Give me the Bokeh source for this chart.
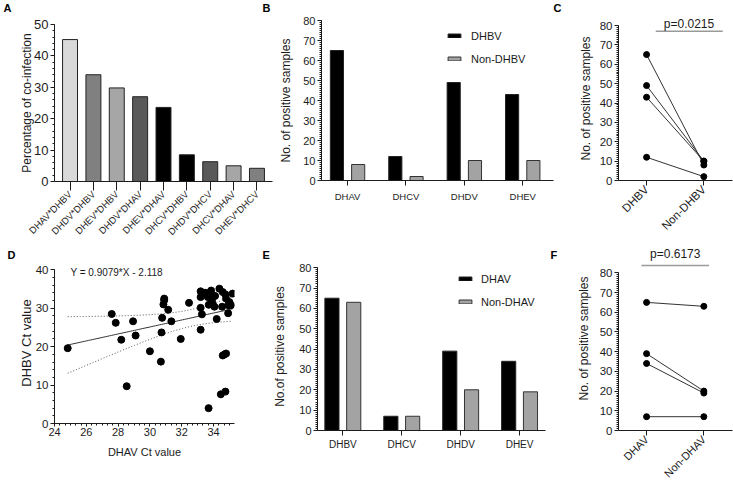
import math
import numpy as np
from bokeh.plotting import figure
from bokeh.models import (Range1d, FixedTicker, SingleIntervalTicker, Label,
                          Legend, LegendItem)
from bokeh.layouts import row, column
from bokeh.embed import file_html
from bokeh.resources import INLINE

FONT = "Liberation Sans"
INK = "#1c1c1c"
GREY_BAR = "#a3a3a3"

# ---- A: co-infection percentages ----
coinf_pairs = ["DHAV*DHBV", "DHDV*DHBV", "DHEV*DHBV", "DHDV*DHAV", "DHEV*DHAV",
               "DHCV*DHBV", "DHDV*DHCV", "DHCV*DHAV", "DHEV*DHCV"]
coinf_pct = [45.2, 34.0, 29.8, 27.0, 23.6, 8.5, 6.3, 5.0, 4.2]
coinf_fill = ["#d9d9d9", "#808080", "#a6a6a6", "#595959", "#000000",
              "#000000", "#595959", "#a6a6a6", "#808080"]

# ---- B / C: positives with and without DHBV ----
viruses_b = ["DHAV", "DHCV", "DHDV", "DHEV"]
with_dhbv = [65, 12, 49, 43]
without_dhbv = [8, 2, 10, 10]
groups_c = ["DHBV", "Non-DHBV"]
p_text_c = "p=0.0215"

# ---- E / F: positives with and without DHAV ----
viruses_e = ["DHBV", "DHCV", "DHDV", "DHEV"]
with_dhav = [65, 7, 39, 34]
without_dhav = [63, 7, 20, 19]
groups_f = ["DHAV", "Non-DHAV"]
p_text_f = "p=0.6173"

# ---- D: Ct value correlation ----
dhav_ct = [24.83, 27.6, 27.85, 28.2, 28.54, 28.94, 29.1, 30.0, 30.69, 30.73,
           30.77, 30.85, 30.9, 30.9, 31.15, 31.35, 31.94, 32.46, 33.19, 33.19,
           33.19, 33.27, 33.19, 33.44, 33.64, 33.85, 33.85, 33.9, 33.94, 34.06,
           33.7, 33.69, 34.2, 34.37, 34.46, 34.54, 34.58, 34.58, 34.7, 34.79,
           34.75, 34.75, 34.79, 34.92, 34.92, 35.0, 35.1, 35.2, 33.5, 34.1]
dhbv_ct = [19.6, 28.5, 26.2, 21.8, 9.7, 26.6, 22.9, 18.8, 16.1, 23.7,
           27.5, 31.0, 32.1, 32.5, 29.6, 26.6, 22.0, 31.4, 34.4, 32.9,
           30.1, 28.4, 24.4, 33.9, 32.9, 34.6, 33.4, 32.0, 31.1, 30.4,
           30.9, 4.0, 27.2, 35.1, 7.6, 30.4, 34.2, 17.7, 18.0, 18.2,
           8.3, 33.6, 32.5, 28.7, 30.8, 31.6, 30.8, 33.8, 34.0, 33.2]
fit_slope = 0.9079
fit_intercept = -2.118
fit_text = "Y = 0.9079*X - 2.118"

# panel letters: (text, left x, vertical centre y) on the page
panel_letters_top = [("A", 3, 7.4), ("B", 262, 7.2), ("C", 553, 7.2)]
panel_letters_bottom = [("D", 7, 254.6), ("E", 262, 254.6), ("F", 550, 254.3)]


def make_fig(w, h, left, right, top, bottom, xr, yr):
    p = figure(width=w, height=h, x_range=xr, y_range=yr, tools="",
               title=None, output_backend="svg", toolbar_location=None,
               min_border_left=left, min_border_right=right,
               min_border_top=top, min_border_bottom=bottom)
    p.outline_line_color = None
    p.xgrid.visible = False
    p.ygrid.visible = False
    p.background_fill_color = "white"
    p.border_fill_color = "white"
    return p


def header(w, h, y0, letters):
    # strip above a row of panels carrying the bold panel letters
    p = figure(width=w, height=h, x_range=Range1d(0, w), y_range=Range1d(0, h),
               tools="", title=None, toolbar_location=None,
               output_backend="svg", min_border=0, min_border_left=0,
               min_border_right=0, min_border_top=0, min_border_bottom=0,
               x_axis_location=None, y_axis_location=None)
    p.outline_line_color = None
    p.xgrid.visible = False
    p.ygrid.visible = False
    p.background_fill_color = "white"
    p.border_fill_color = "white"
    for txt, x, mid in letters:
        p.add_layout(Label(x=x, y=(y0 + h) - mid, text=txt, text_font=FONT,
                           text_font_size="11px", text_font_style="bold",
                           text_color="black", text_align="left",
                           text_baseline="middle"))
    return p


def style_axis(ax, tick_px, label_px, tick_out=4, standoff=2, label_standoff=3):
    ax.axis_line_color = INK
    ax.axis_line_width = 1
    ax.major_tick_line_color = INK
    ax.minor_tick_line_color = INK
    ax.major_tick_out = tick_out
    ax.major_tick_in = 0
    ax.minor_tick_out = 2
    ax.minor_tick_in = 0
    ax.major_label_text_font = FONT
    ax.major_label_text_font_size = f"{tick_px}px"
    ax.major_label_text_color = INK
    ax.axis_label_text_font = FONT
    ax.axis_label_text_font_size = f"{label_px}px"
    ax.axis_label_text_font_style = "normal"
    ax.axis_label_text_color = INK
    ax.major_label_standoff = standoff
    ax.axis_label_standoff = label_standoff


def cat_axis(ax, names, rotate=False):
    ax.ticker = FixedTicker(ticks=list(range(len(names))))
    ax.major_label_overrides = {i: n for i, n in enumerate(names)}
    ax.minor_tick_line_color = None
    if rotate:
        ax.major_label_orientation = math.pi / 4


def grouped_bars(p, a_vals, b_vals, off, width):
    xs = list(range(len(a_vals)))
    ra = p.vbar(x=[x - off for x in xs], top=a_vals, width=width,
                fill_color="black", line_color="#222222", line_width=1)
    rb = p.vbar(x=[x + off for x in xs], top=b_vals, width=width,
                fill_color=GREY_BAR, line_color="#333333", line_width=1)
    return ra, rb


def bar_legend(p, ra, rb, names, x, y, standoff):
    lg = Legend(items=[LegendItem(label=names[0], renderers=[ra]),
                       LegendItem(label=names[1], renderers=[rb])],
                location=(x, y), glyph_width=16, glyph_height=5,
                label_height=13, spacing=10, padding=0, margin=0,
                label_standoff=standoff, border_line_color=None,
                background_fill_alpha=0, label_text_font=FONT,
                label_text_font_size="11px", label_text_color=INK,
                label_text_baseline="middle")
    p.add_layout(lg)


def paired_panel(p, left_vals, right_vals, names, p_text, bracket, text_xy,
                 tick_px, label_standoff):
    xs = [[0, 1] for _ in left_vals]
    ys = [[a, b] for a, b in zip(left_vals, right_vals)]
    p.multi_line(xs=xs, ys=ys, line_color="#333333", line_width=1)
    p.scatter(x=[0] * len(left_vals), y=left_vals, size=6, color="black")
    p.scatter(x=[1] * len(right_vals), y=right_vals, size=6, color="black")
    x0, x1, yb = bracket
    p.line(x=[x0, x1], y=[yb, yb], line_color="#9a9a9a", line_width=1.5)
    p.add_layout(Label(x=text_xy[0], y=text_xy[1], text=p_text, text_font=FONT,
                       text_font_size="12px", text_color=INK,
                       text_align="center", text_baseline="middle"))
    style_axis(p.xaxis[0], tick_px, 12, tick_out=5)
    cat_axis(p.xaxis[0], names, rotate=True)
    style_axis(p.yaxis[0], 11.5, 12, label_standoff=label_standoff)
    p.yaxis[0].ticker = SingleIntervalTicker(interval=10, num_minor_ticks=10)
    p.yaxis[0].bounds = (0, 80)
    p.yaxis[0].axis_label = "No. of positive samples"


# ===================== top strip =====================
hdr_top = header(733, 15, 0, panel_letters_top)

# ===================== A =====================
pa = make_fig(276, 228, 54, 4, 9, 62, Range1d(-0.665, 8.665), Range1d(0, 50))
pa.vbar(x=list(range(len(coinf_pct))), top=coinf_pct, width=0.64,
        fill_color=coinf_fill, line_color="#222222", line_width=1)
style_axis(pa.xaxis[0], 9.5, 12, tick_out=9)
cat_axis(pa.xaxis[0], coinf_pairs, rotate=True)
style_axis(pa.yaxis[0], 13, 12, label_standoff=-3)
pa.yaxis[0].ticker = SingleIntervalTicker(interval=10, num_minor_ticks=5)
pa.yaxis[0].axis_label = "Percentage of co-infection"

# ===================== B =====================
pb = make_fig(280, 228, 41, 3, 5, 63, Range1d(-0.446, 3.527), Range1d(0, 80))
rba, rbb = grouped_bars(pb, with_dhbv, without_dhbv, 0.182, 0.225)
style_axis(pb.xaxis[0], 9.5, 12, tick_out=5, standoff=5)
cat_axis(pb.xaxis[0], viruses_b)
style_axis(pb.yaxis[0], 11, 12, label_standoff=7)
pb.yaxis[0].ticker = SingleIntervalTicker(interval=10, num_minor_ticks=10)
pb.yaxis[0].axis_label = "No. of positive samples"
bar_legend(pb, rba, rbb, ["DHBV", "Non-DHBV"], 125, 115, 9)

# ===================== C =====================
pc = make_fig(177, 228, 62, 1, 1, 63, Range1d(-0.49, 1.5), Range1d(0, 84.65))
paired_panel(pc, with_dhbv, without_dhbv, groups_c, p_text_c,
             (0.16, 1.33, 77), (0.74, 81.0), 11.5, 4)

# ===================== bottom strip =====================
hdr_bot = header(558, 18, 243, panel_letters_bottom)

# ===================== D =====================
pd = make_fig(250, 226, 54, 16, 1, 64, Range1d(24, 35.32), Range1d(0, 41.9))
xa = np.array(dhav_ct)
ya = np.array(dhbv_ct)
n = len(xa)
resid = ya - (fit_slope * xa + fit_intercept)
s_err = np.sqrt(np.sum(resid ** 2) / (n - 2))
x_mean = xa.mean()
sxx = np.sum((xa - x_mean) ** 2)
xfit = np.linspace(xa.min(), xa.max(), 80)
yfit = fit_slope * xfit + fit_intercept
half = 2.01 * s_err * np.sqrt(1.0 / n + (xfit - x_mean) ** 2 / sxx)
pd.line(xfit, yfit + half, line_color="#555555", line_width=1, line_dash="1 2")
pd.line(xfit, yfit - half, line_color="#555555", line_width=1, line_dash="1 2")
pd.line(xfit, yfit, line_color="#333333", line_width=1)
pd.scatter(x=dhav_ct, y=dhbv_ct, size=7, color="black")
pd.add_layout(Label(x=25.0, y=39.3, text=fit_text, text_font=FONT,
                    text_font_size="10px", text_color=INK,
                    text_baseline="middle", text_align="left"))
style_axis(pd.xaxis[0], 11, 11, tick_out=3, standoff=1, label_standoff=7)
pd.xaxis[0].ticker = SingleIntervalTicker(interval=2, num_minor_ticks=6)
pd.xaxis[0].axis_label = "DHAV Ct value"
style_axis(pd.yaxis[0], 11.5, 13, label_standoff=-1)
pd.yaxis[0].ticker = SingleIntervalTicker(interval=10, num_minor_ticks=5)
pd.yaxis[0].bounds = (0, 40)
pd.yaxis[0].axis_label = "DHBV Ct value"

# ===================== E =====================
pe = make_fig(308, 226, 67, 13, 1, 57, Range1d(-0.43, 3.44), Range1d(0, 82.55))
rea, reb = grouped_bars(pe, with_dhav, without_dhav, 0.185, 0.24)
style_axis(pe.xaxis[0], 10, 12, tick_out=5, standoff=3)
cat_axis(pe.xaxis[0], viruses_e)
style_axis(pe.yaxis[0], 11, 12, label_standoff=9)
pe.yaxis[0].ticker = SingleIntervalTicker(interval=10, num_minor_ticks=10)
pe.yaxis[0].bounds = (0, 80)
pe.yaxis[0].axis_label = "No.of positive samples"
bar_legend(pe, rea, reb, ["DHAV", "Non-DHAV"], 140, 122, 8)

# ===================== F =====================
pf = make_fig(175, 244, 60, 1, 3, 57, Range1d(-0.49, 1.5), Range1d(0, 93.35))
paired_panel(pf, with_dhav, without_dhav, groups_f, p_text_f,
             (-0.09, 1.09, 83.7), (0.5, 89.3), 11, 6)

# each panel sits in its own column so that its frame keeps its own borders
top_block = column(hdr_top, row(column(pa), column(pb), column(pc)))
bottom_block = row(column(hdr_bot, row(column(pd), column(pe))), column(pf))
layout = column(top_block, bottom_block)
open("out.html", "w").write(file_html(layout, INLINE))
